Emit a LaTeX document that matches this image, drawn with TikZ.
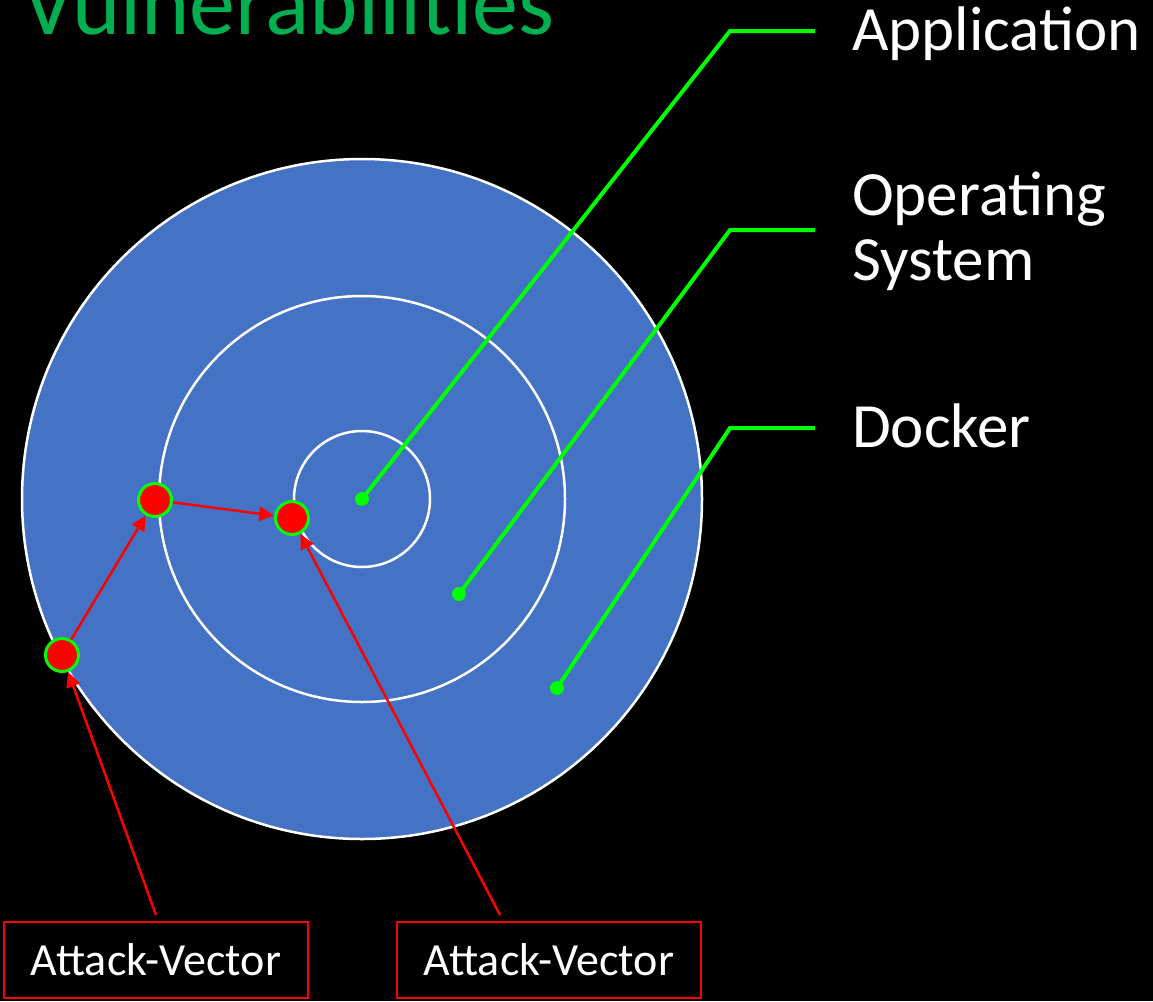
\documentclass[tikz,border=0pt]{standalone}
\usepackage{fontspec}
\setmainfont{Carlito}
\usetikzlibrary{arrows.meta,positioning}
\definecolor{ringblue}{HTML}{4472C4}
\definecolor{leadgreen}{HTML}{00FF00}
\definecolor{titlegreen}{HTML}{00B050}
\definecolor{hitred}{HTML}{FF0000}

\begin{document}
\begin{tikzpicture}[x=1pt, y=-1pt, ring/.style={circle, draw=white, line width=2.5pt, fill=ringblue, inner sep=0pt}, gdot/.style={circle, fill=leadgreen, minimum size=14pt, inner sep=0pt}, hit/.style={circle, draw=leadgreen, line width=3pt, fill=hitred, minimum size=33pt, inner sep=0pt}, leader/.style={draw=leadgreen, line width=4pt}, atk/.style={-{Triangle[length=15pt,width=14pt]}, draw=hitred, line width=2.5pt}, avbox/.style={draw=hitred, line width=2pt, fill=black, text=white, minimum width=304pt, minimum height=76pt, font=\fontsize{46}{55}\selectfont}, lbl/.style={text=white, inner sep=0pt, align=left, font=\fontsize{63}{65}\selectfont}]
    \fill[black] (0,0) rectangle (1153,1001);
    \useasboundingbox (0,0) rectangle (1153,1001);
    \node[anchor=base west, text=titlegreen, inner sep=0pt, font=\fontsize{92}{100}\selectfont] (title) at (22,34) {Vulnerabilities};
    % layers
    \node[ring, minimum size=680pt] (docker) at (362,499) {};
    \node[ring, minimum size=406pt] (os) at (362,499) {};
    \node[ring, minimum size=136pt] (app) at (362,499) {};
    % labels with leaders
    \node[lbl, anchor=base west] (applbl) at (852,50) {Application};
    \node[lbl, anchor=north west] (oslbl) at (852,172) {Operating\\System};
    \node[lbl, anchor=base west] (dockerlbl) at (852,447) {Docker};
    \coordinate (appbend) at (730,31);
    \coordinate (append) at (815,31);
    \coordinate (osbend) at (730,230);
    \coordinate (osend) at (815,230);
    \coordinate (dockerbend) at (730,428);
    \coordinate (dockerend) at (815,428);
    \node[gdot] (appdot) at (362,499) {};
    \node[gdot] (osdot) at (459,594) {};
    \node[gdot] (dockerdot) at (557,688) {};
    \draw[leader] (appdot.center) -- (appbend) -- (append);
    \draw[leader] (osdot.center) -- (osbend) -- (osend);
    \draw[leader] (dockerdot.center) -- (dockerbend) -- (dockerend);
    % attack path
    \node[hit] (h1) at (62,655) {};
    \node[hit] (h2) at (155,500) {};
    \node[hit] (h3) at (292,518) {};
    \draw[atk] (h1) -- (h2);
    \draw[atk] (h2) -- (h3);
    \node[avbox] (av1) at (156,960) {Attack-Vector};
    \node[avbox] (av2) at (549,960) {Attack-Vector};
    \draw[atk] ([yshift=6pt]av1.north) -- (h1);
    \draw[atk] ([xshift=-49pt,yshift=6pt]av2.north) -- (h3);
  \end{tikzpicture}
\end{document}
